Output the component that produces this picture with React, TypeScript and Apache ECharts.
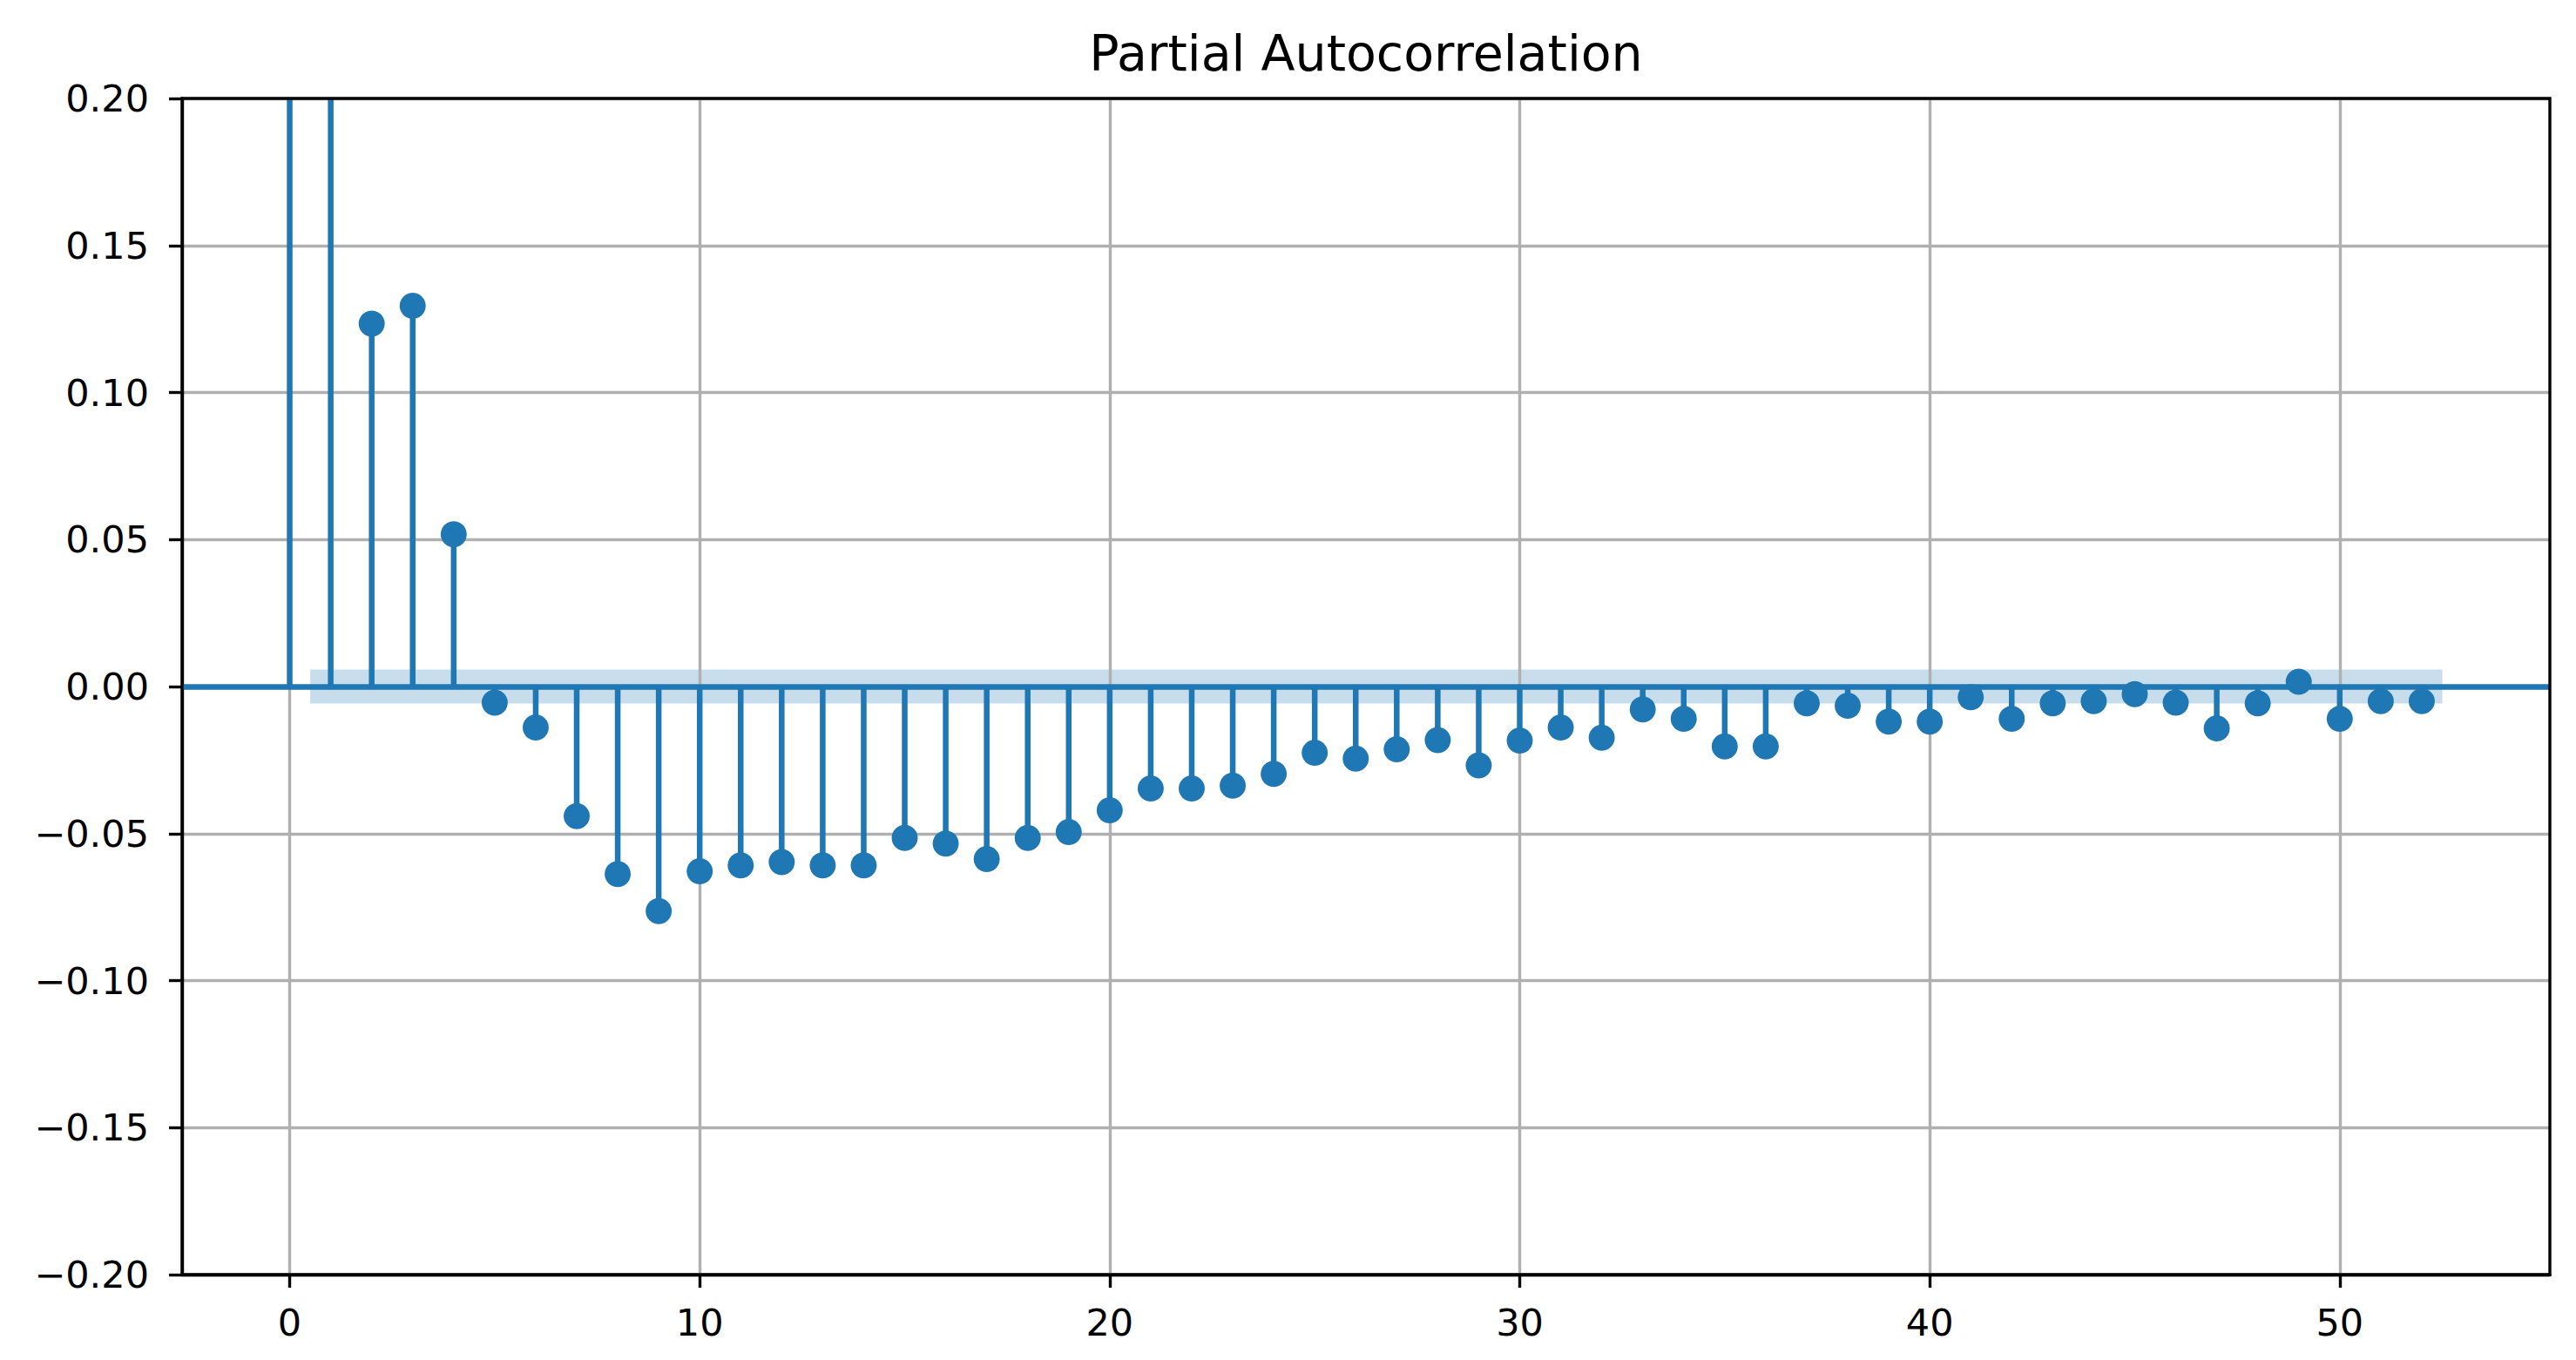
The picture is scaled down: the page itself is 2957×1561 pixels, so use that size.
import React, { useEffect, useRef } from "react";
import * as echarts from "echarts";

const titleText = "Partial Autocorrelation";
const lags = Array.from({ length: 53 }, (_, i) => i);
const pacfValues = [
  1.0, 0.9, 0.1234, 0.1295, 0.0518, -0.0055, -0.0139, -0.0441, -0.0638, -0.0764,
  -0.0628, -0.0608, -0.0597, -0.0608, -0.0608, -0.0515, -0.0534, -0.0587, -0.0515, -0.0495,
  -0.0421, -0.0347, -0.0347, -0.0337, -0.0297, -0.0225, -0.0245, -0.0213, -0.0182, -0.0268,
  -0.0184, -0.0139, -0.0174, -0.0078, -0.011, -0.0204, -0.0204, -0.0057, -0.0065, -0.0119,
  -0.0119, -0.0036, -0.011, -0.0057, -0.005, -0.0026, -0.0055, -0.0142, -0.0057, 0.0016,
  -0.011, -0.005, -0.005,
];
const confHalfWidth = 0.0058;
const bandLagRange = [0.5, 52.5];
const xTicks = [0, 10, 20, 30, 40, 50];
const xRange = [-2.625, 55.125];
const yRange = [-0.2, 0.2];
const yStep = 0.05;

const C0 = "#1f77b4";
const FONT = "DejaVu Sans";

export default function App() {
  const ref = useRef<HTMLDivElement>(null);
  useEffect(() => {
    if (!ref.current) return;
    const chart = echarts.init(ref.current, null, { renderer: "svg" });
    const points = lags.map((l, i) => [l, pacfValues[i]]);
    chart.setOption({
      animation: false,
      backgroundColor: "#ffffff",
      grid: {
        left: 209,
        top: 113,
        width: 2718,
        height: 1350,
        show: true,
        borderColor: "#000",
        borderWidth: 3.4,
        backgroundColor: "transparent",
        z: 10,
      },
      graphic: [
        {
          type: "text",
          x: 1568,
          y: 61,
          z: 20,
          style: {
            text: titleText,
            fontFamily: FONT,
            fontSize: 57,
            fill: "#000",
            textAlign: "center",
            textVerticalAlign: "middle",
          },
        },
      ],
      xAxis: {
        type: "value",
        min: xRange[0],
        max: xRange[1],
        axisLine: { show: true, onZero: false, lineStyle: { color: "#000", width: 3.4 } },
        axisTick: { show: true, length: 15, lineStyle: { color: "#000", width: 3.4 }, customValues: xTicks },
        axisLabel: {
          customValues: xTicks,
          margin: 33,
          fontFamily: FONT,
          fontSize: 43,
          color: "#000",
          formatter: (v: number) => String(Math.round(v)),
        },
        splitLine: { show: false },
      },
      yAxis: {
        type: "value",
        min: yRange[0],
        max: yRange[1],
        interval: yStep,
        axisLine: { show: true, onZero: false, lineStyle: { color: "#000", width: 3.4 } },
        axisTick: { show: true, length: 15, lineStyle: { color: "#000", width: 3.4 } },
        axisLabel: {
          margin: 38,
          fontFamily: FONT,
          fontSize: 43,
          color: "#000",
          formatter: (v: number) => {
            const r = Math.round(v * 100) / 100;
            return (r < 0 ? "\u2212" : "") + Math.abs(r).toFixed(2);
          },
        },
        splitLine: { show: true, lineStyle: { color: "#b0b0b0", width: 3.4 } },
      },
      series: [
        {
          type: "bar",
          data: points,
          barWidth: 6.5,
          clip: true,
          z: 3,
          itemStyle: { color: C0 },
          silent: true,
          markArea: {
            silent: true,
            z: 1,
            itemStyle: { color: "rgba(31,119,180,0.25)", borderWidth: 0 },
            label: { show: false },
            data: [
              [
                { coord: [bandLagRange[0], -confHalfWidth] },
                { coord: [bandLagRange[1], confHalfWidth] },
              ],
            ],
          },
          markLine: {
            silent: true,
            z: 2,
            symbol: ["none", "none"],
            label: { show: false },
            lineStyle: { color: "#b0b0b0", width: 3.4, type: "solid" },
            data: xTicks.map((t) => ({ xAxis: t })),
          },
        },
        {
          type: "scatter",
          data: points,
          symbol: "circle",
          symbolSize: 30,
          clip: true,
          z: 5,
          silent: true,
          itemStyle: { color: C0, opacity: 1 },
          markLine: {
            silent: true,
            z: 4,
            symbol: ["none", "none"],
            label: { show: false },
            lineStyle: { color: C0, width: 6.5, type: "solid" },
            data: [{ yAxis: 0 }],
          },
        },
      ],
    });
    return () => chart.dispose();
  }, []);
  return (
    <div
      ref={ref}
      style={{ position: "absolute", left: 0, top: 0, width: 2957, height: 1561, background: "#fff" }}
    />
  );
}
